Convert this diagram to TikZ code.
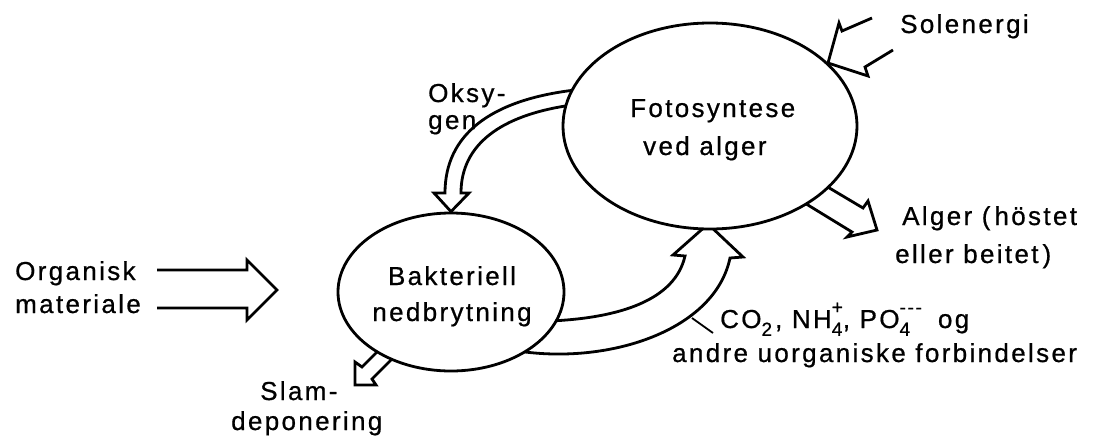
\documentclass[tikz,border=0pt]{standalone}
\usepackage{fontspec}
\setmainfont{Liberation Sans}[LetterSpace=9, FakeBold=0.7]
\usetikzlibrary{shapes.geometric}
\pgfdeclarelayer{background}
\pgfsetlayers{background,main}
\newcommand\chsub[1]{\raisebox{-0.3em}{\fontsize{19}{19}\selectfont #1}}
\newcommand\chsubsup[2]{\makebox[0pt][l]{\raisebox{-0.3em}{\fontsize{19}{19}\selectfont #1}}\raisebox{0.55em}{\fontsize{19}{19}\selectfont #2}}
\tikzset{
  lbl/.style={inner sep=0pt, font=\fontsize{26}{30}\selectfont},
  ellnode/.style={ellipse, draw, line width=2.8pt, fill=white, inner sep=0pt},
  hollow/.style={line width=2.8pt, line join=miter, line cap=butt},
}
\begin{document}
\begin{tikzpicture}[x=1pt,y=-1pt]
\useasboundingbox (0,0) rectangle (1093,440);

% ellipses
\node[ellnode, minimum width=294pt, minimum height=206pt] (F) at (710,126) {};
\node[ellnode, minimum width=226pt, minimum height=158pt] (B) at (451,292) {};

% ellipse texts
\node[lbl, anchor=base west] (f1) at (630,117) {Fotosyntese};
\node[lbl, anchor=base west] (f2) at (643,155) {ved alger};
\node[lbl, anchor=base] (b1) at (452,285) {Bakteriell};
\node[lbl, anchor=base] (b2) at (452,321) {nedbrytning};

% other labels
\node[lbl, anchor=base west] (o1) at (15,280) {Organisk};
\node[lbl, anchor=base west] (o2) at (15,313) {materiale};
\node[lbl, anchor=base west] (s1) at (900,33) {Solenergi};
\node[lbl, anchor=base west] (k1) at (428,102) {Oksy-};
\node[lbl, anchor=base west] (k2) at (428,129) {gen};
\node[lbl, anchor=base west] (a1) at (902,225) {Alger (\hspace{4pt}höstet};
\node[lbl, anchor=base west] (a2) at (895,263) {eller beitet\hspace{4pt})};
\node[lbl, anchor=base west] (c1) at (720,328) {CO\chsub{2}\hspace{3pt}, NH\chsubsup{4}{+}, PO\chsubsup{4}{-{}-{}-}\hspace{16pt}og};
\node[lbl, anchor=base west] (c2) at (672,362) {andre uorganiske forbindelser};
\node[lbl, anchor=base west] (d1) at (260,400) {Slam-};
\node[lbl, anchor=base west] (d2) at (231,430) {deponering};

\begin{pgfonlayer}{background}
% Organisk materiale input arrow
\coordinate (inTip) at (277,290);
\draw[hollow] (157,270) -- (247,270) -- (247,260) -- (inTip) -- (247,320) -- (247,308) -- (157,308);

% Oksygen arrow from F to B
\coordinate (oxTip) at (B.north);
\draw[hollow] (575,90) .. controls (490,100) and (445,135) .. (445,193)
   -- (434,193) -- (oxTip) -- (469,193) -- (461,193)
   .. controls (461,145) and (500,115) .. (572,105);

% CO2 arrow from B to F
\draw[hollow] (550,321) .. controls (620,318) and (675,300) .. (685,256)
   -- (673,255) -- (708,224) -- (743,257) -- (730,258)
   .. controls (715,330) and (610,365) .. (518,351);

% Alger output arrow
\draw[hollow] (826,186) -- (863,208) -- (868,201) -- (877,230) -- (847,237) -- (852,232) -- (803,202);

% Slam arrow
\draw[hollow] (382,347) -- (362,367) -- (355,362) -- (355,385) -- (376,385) -- (372,379) -- (398,353);

% Solenergi arrows
\coordinate (sunTip) at (828,63);
\draw[hollow] (872,18) -- (842,31) -- (839,23) -- (sunTip);
\draw[hollow] (893,50) -- (865,67) -- (868,76) -- (sunTip);
\end{pgfonlayer}

% leader line for CO2 label
\coordinate (ldA) at (692,318);
\coordinate (ldB) at (713,333);
\draw[line width=1.8pt] (ldA) -- (ldB);
\end{tikzpicture}
\end{document}
